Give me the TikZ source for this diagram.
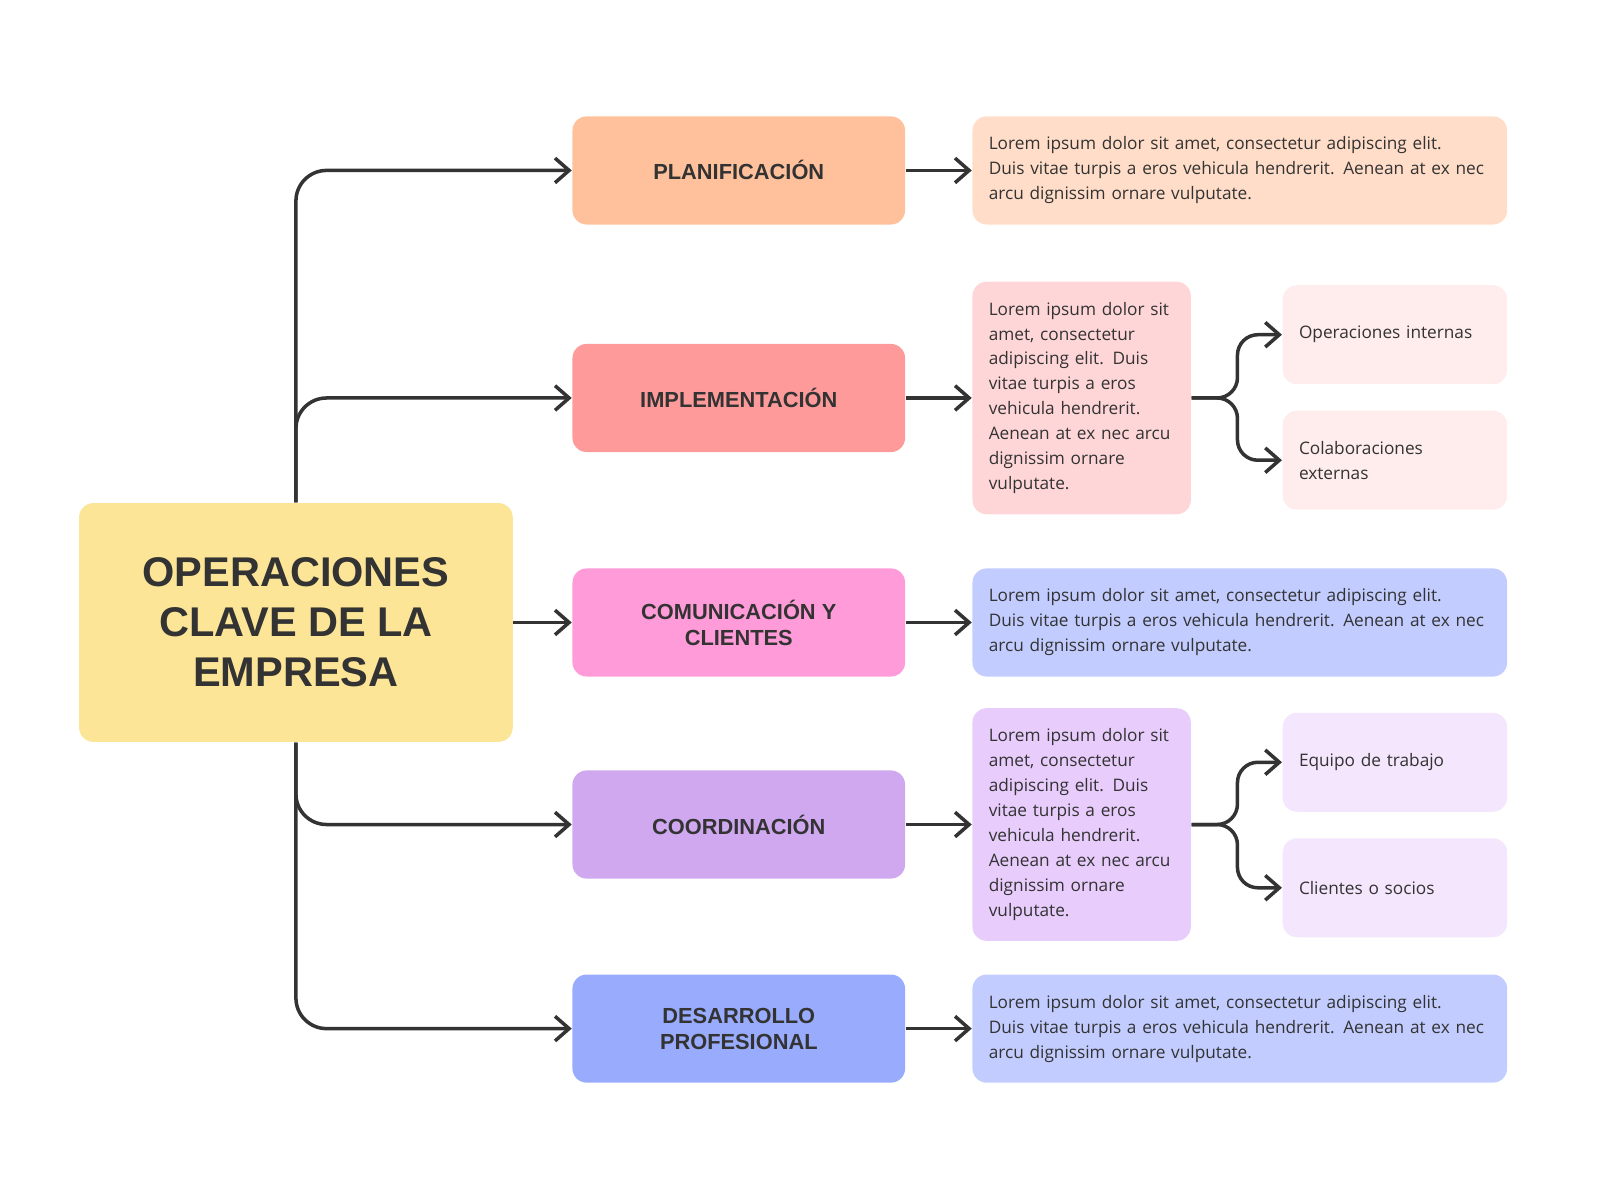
\documentclass[tikz,border=0pt]{standalone}
\usepackage{fontspec}
\setmainfont{Open Sans}
\newfontfamily\headfont{Liberation Sans}
\usetikzlibrary{arrows.meta}
\def\px{0.0102cm}
\definecolor{ink}{HTML}{333333}
\definecolor{mainC}{HTML}{FDE598}
\definecolor{planC}{HTML}{FFC19B}
\definecolor{implC}{HTML}{FF9A9A}
\definecolor{comuC}{HTML}{FF9BD8}
\definecolor{coorC}{HTML}{D0A8F0}
\definecolor{desaC}{HTML}{98ABFD}
\definecolor{planL}{HTML}{FFDDC8}
\definecolor{implL}{HTML}{FFD6D8}
\definecolor{blueL}{HTML}{C2CCFF}
\definecolor{coorL}{HTML}{E8CCFC}
\definecolor{pinkLL}{HTML}{FFECEC}
\definecolor{lilaLL}{HTML}{F4E6FC}
\tikzset{>={Straight Barb[length=4pt,width=7pt,line width=1pt]},
  box/.style={rounded corners=14*\px, inner sep=0pt, align=center, text=ink},
  head/.style={box, minimum width=326*\px, minimum height=106*\px,
    font=\headfont\bfseries\fontsize{6.2}{7.4}\selectfont},
  body/.style={box, align=left, inner xsep=16*\px,
    font=\fontsize{4.9}{7.1}\selectfont},
  wide/.style={body, text width=492*\px, minimum height=106*\px},
  tall/.style={body, text width=182*\px, minimum height=228*\px},
  leaf/.style={body, text width=188*\px, minimum height=97*\px},
  link/.style={draw=ink, line width=1pt, ->}}
\begin{document}
\begin{tikzpicture}[x=\px,y=-\px]
  \useasboundingbox (0,0) rectangle (1568,1176);

  % centre
  \node[box, fill=mainC, minimum width=425*\px, minimum height=234*\px,
    font=\headfont\bfseries\fontsize{11.8}{14.2}\selectfont] (main) at (290,610)
    {OPERACIONES\\CLAVE DE LA\\EMPRESA};

  % first level
  \node[head, fill=planC] (plan) at (724,167) {PLANIFICACIÓN};
  \node[head, fill=implC] (impl) at (724,390) {IMPLEMENTACIÓN};
  \node[head, fill=comuC] (comu) at (724,610) {COMUNICACIÓN Y\\CLIENTES};
  \node[head, fill=coorC] (coor) at (724,808) {COORDINACIÓN};
  \node[head, fill=desaC] (desa) at (724,1008) {DESARROLLO\\PROFESIONAL};

  % descriptions
  \node[wide, fill=planL] (planT) at (1215,167)
    {Lorem ipsum dolor sit amet, consectetur adipiscing elit.\\Duis vitae turpis a eros vehicula hendrerit. Aenean at ex nec\\arcu dignissim ornare vulputate.};
  \node[tall, fill=implL] (implT) at (1060,390)
    {Lorem ipsum dolor sit\\amet, consectetur\\adipiscing elit. Duis\\vitae turpis a eros\\vehicula hendrerit.\\Aenean at ex nec arcu\\dignissim ornare\\vulputate.};
  \node[wide, fill=blueL] (comuT) at (1215,610)
    {Lorem ipsum dolor sit amet, consectetur adipiscing elit.\\Duis vitae turpis a eros vehicula hendrerit. Aenean at ex nec\\arcu dignissim ornare vulputate.};
  \node[tall, fill=coorL] (coorT) at (1060,808)
    {Lorem ipsum dolor sit\\amet, consectetur\\adipiscing elit. Duis\\vitae turpis a eros\\vehicula hendrerit.\\Aenean at ex nec arcu\\dignissim ornare\\vulputate.};
  \node[wide, fill=blueL] (desaT) at (1215,1008)
    {Lorem ipsum dolor sit amet, consectetur adipiscing elit.\\Duis vitae turpis a eros vehicula hendrerit. Aenean at ex nec\\arcu dignissim ornare vulputate.};

  % leaves
  \node[leaf, fill=pinkLL] (intern) at (1367,328) {Operaciones internas};
  \node[leaf, fill=pinkLL] (extern) at (1367,451) {Colaboraciones\\externas};
  \node[leaf, fill=lilaLL] (equipo) at (1367,747) {Equipo de trabajo};
  \node[leaf, fill=lilaLL] (socios) at (1367,870) {Clientes o socios};

  % trunk
  \draw[link, rounded corners=30*\px] (main.north) |- (plan.west);
  \draw[link, rounded corners=30*\px] (main.north) |- (impl.west);
  \draw[link] (main.east) -- (comu.west);
  \draw[link, rounded corners=30*\px] (main.south) |- (coor.west);
  \draw[link, rounded corners=30*\px] (main.south) |- (desa.west);

  \foreach \a in {plan,impl,comu,coor,desa}
    \draw[link] (\a.east) -- (\a T.west);

  % forks
  \draw[link, rounded corners=20*\px] (implT.east) -- ++(45,0) |- (intern.west);
  \draw[link, rounded corners=20*\px] (implT.east) -- ++(45,0) |- (extern.west);
  \draw[link, rounded corners=20*\px] (coorT.east) -- ++(45,0) |- (equipo.west);
  \draw[link, rounded corners=20*\px] (coorT.east) -- ++(45,0) |- (socios.west);
\end{tikzpicture}
\end{document}
